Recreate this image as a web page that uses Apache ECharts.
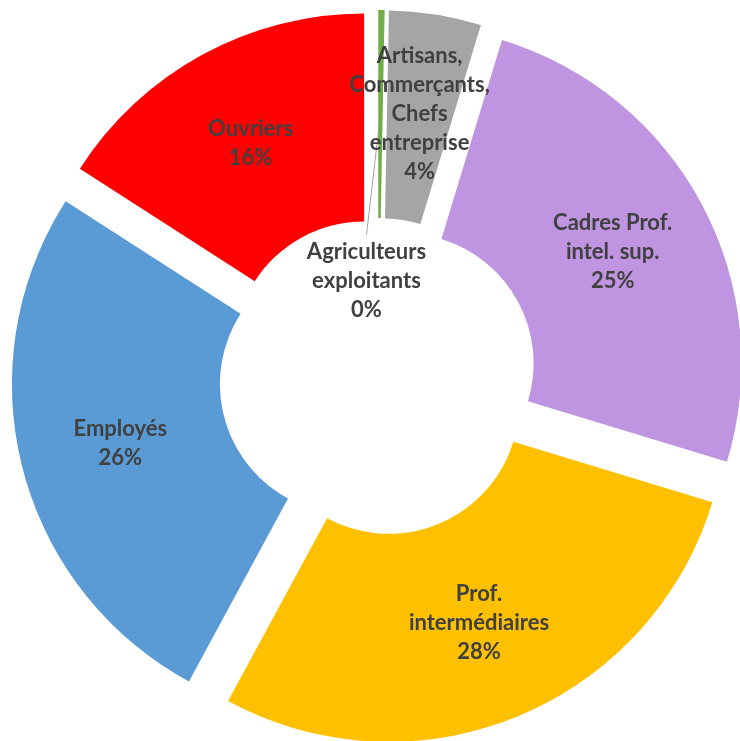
<!DOCTYPE html>
<html>
<head>
<meta charset="utf-8">
<script src="https://cdn.jsdelivr.net/npm/echarts@6/dist/echarts.min.js"></script>
<style>
  html, body { margin: 0; padding: 0; background: #fff; }
  #chart { width: 740px; height: 741px; }
</style>
</head>
<body>
<div id="chart"></div>
<script>
// categories, clockwise from 12 o'clock
const categories = [
  "Agriculteurs\nexploitants",
  "Artisans,\nCommerçants,\nChefs\nentreprise",
  "Cadres Prof.\nintel. sup.",
  "Prof.\nintermédiaires",
  "Employés",
  "Ouvriers"
];
// share in %
const shares = [0.3, 4.4, 25.0, 28.2, 26.2, 15.9];
const colors = ["#70AD47", "#A5A5A5", "#BF94E0", "#FFC000", "#5B9BD5", "#FF0000"];

const CENTER = [378, 377];
const RADIUS = [130, 338];
const EXPLODE = 29;

const total = shares.reduce((a, b) => a + b, 0);

// bisector angle of a slice (clockwise from 12 o'clock, radians)
function midAngle(idx) {
  let before = 0;
  for (let k = 0; k < idx; k++) before += shares[k];
  return (before + shares[idx] / 2) / total * 2 * Math.PI;
}

const labelFont = {
  color: "#404040",
  fontFamily: "Lato",
  fontWeight: "bold",
  fontSize: 22,
  lineHeight: 29
};

const chart = echarts.init(document.getElementById("chart"));

// one pie per slice, each moved out along its own bisector (exploded pie)
const series = categories.map((_, i) => {
  const a = midAngle(i);
  const c = [CENTER[0] + EXPLODE * Math.sin(a), CENTER[1] - EXPLODE * Math.cos(a)];
  return {
    type: "pie",
    center: c,
    radius: RADIUS,
    startAngle: 90,
    clockwise: true,
    avoidLabelOverlap: false,
    silent: true,
    emphasis: { disabled: true },
    label: Object.assign({
      show: true,
      position: "inside",
      align: "center",
      padding: [12, 0, 0, 0],
      formatter: (p) => p.name + "\n" + Math.round(p.percent) + "%"
    }, labelFont),
    labelLine: { show: false },
    labelLayout: i === 0 ? function (p) {
      if (p.dataIndex !== 0) return {};
      const rr = (RADIUS[0] + RADIUS[1]) / 2;
      const ax = c[0] + rr * Math.sin(a);
      const ay = c[1] - rr * Math.cos(a);
      const lx = ax - 14;
      const ly = ay + 111;
      return {
        x: lx,
        y: ly,
        align: "center",
        verticalAlign: "top",
        labelLinePoints: [[ax, ay], [lx, ly + 10]]
      };
    } : null,
    data: categories.map((name, j) => {
      const item = { name: name, value: shares[j] };
      if (j !== i) {
        item.itemStyle = { color: "rgba(0,0,0,0)" };
        item.label = { show: false };
      } else {
        item.itemStyle = { color: colors[j] };
        if (j === 0) {
          item.label = { position: "outside" };
          item.labelLine = { show: true, lineStyle: { color: "#A5A5A5", width: 1 } };
        }
      }
      return item;
    })
  };
});

chart.setOption({ animation: false, series: series });
</script>
</body>
</html>
